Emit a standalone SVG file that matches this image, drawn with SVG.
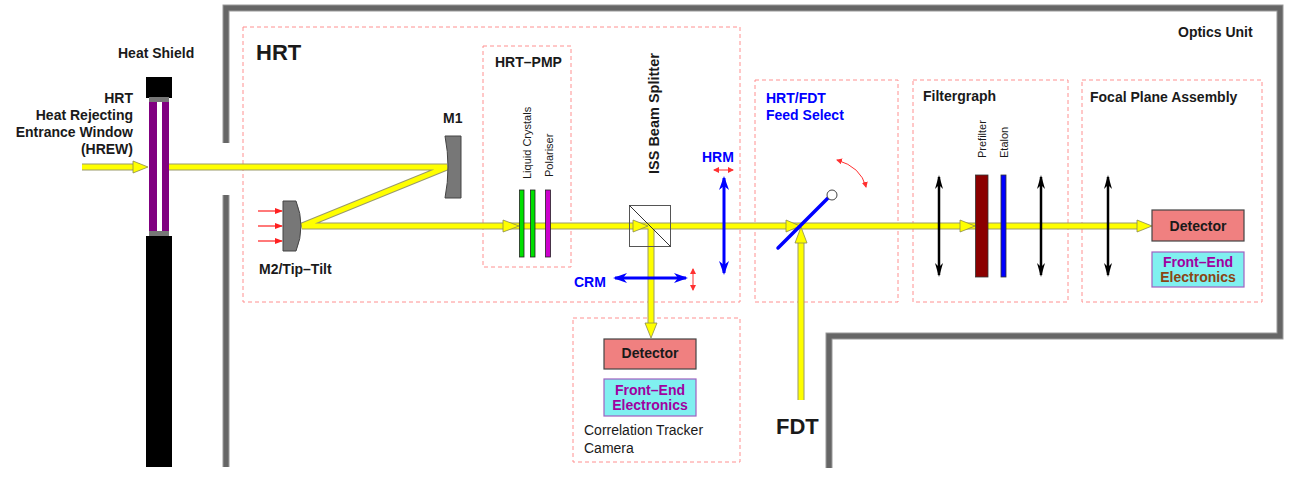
<svg xmlns="http://www.w3.org/2000/svg" width="1298" height="484" viewBox="0 0 1298 484">
<style>
text{font-family:"Liberation Sans",Arial,sans-serif;font-weight:bold;font-size:14px;fill:#1a1a1a}
.blue{fill:#0000ff}
.pur{fill:#a000a0}
.brn{fill:#8b4513}
.dash{fill:none;stroke:#ff9090;stroke-width:1;stroke-dasharray:4 3}
.wallo{fill:none;stroke:#9a9a9a;stroke-width:7}
.wall{fill:none;stroke:#666;stroke-width:5}
.bo{fill:none;stroke:#9a9a6a;stroke-width:7}
.b{fill:none;stroke:#ffff00;stroke-width:5}
.ah{fill:#ffff00;stroke:#8a8a50;stroke-width:0.8}
.lens{stroke:#000;stroke-width:2.5;marker-start:url(#bk);marker-end:url(#bk)}
.bl{stroke:#0000ff;stroke-width:3;marker-start:url(#bu);marker-end:url(#bu)}
.rd{stroke:#ff3030;stroke-width:1;fill:none;marker-start:url(#rd);marker-end:url(#rd)}
.det{fill:#f08080;stroke:#444;stroke-width:1.2}
.fee{fill:#80f0f0;stroke:#a060c0;stroke-width:1.2}
.small{font-weight:normal;font-size:11px}
</style>
<defs>
<marker id="bk" viewBox="0 0 14 8" refX="12" refY="4" markerWidth="14" markerHeight="8" markerUnits="userSpaceOnUse" orient="auto-start-reverse"><path d="M0,0 L14,4 L0,8 L4,4 Z" fill="#000"/></marker>
<marker id="bu" viewBox="0 0 14 10" refX="12" refY="5" markerWidth="14" markerHeight="10" markerUnits="userSpaceOnUse" orient="auto-start-reverse"><path d="M0,0 L14,5 L0,10 L4,5 Z" fill="#0000ff"/></marker>
<marker id="rd" viewBox="0 0 6 6" refX="5" refY="3" markerWidth="6" markerHeight="6" markerUnits="userSpaceOnUse" orient="auto-start-reverse"><path d="M0,0 L6,3 L0,6 Z" fill="#ff3030"/></marker>
<marker id="rda" viewBox="0 0 8 6" refX="7" refY="3" markerWidth="8" markerHeight="6" markerUnits="userSpaceOnUse" orient="auto"><path d="M0,0 L8,3 L0,6 Z" fill="#ff2020"/></marker>
</defs>

<g id="optics-unit">
<path class="wallo" d="M226,143 V8 H1280 V336 H829 V468"/>
<path class="wallo" d="M226,195 V467"/>
<path class="wall" d="M226,143 V8 H1280 V336 H829 V468"/>
<path class="wall" d="M226,195 V467"/>
<text x="1178" y="37">Optics Unit</text>
</g>

<g id="boxes">
<rect class="dash" x="243" y="27" width="497" height="275"/>
<rect class="dash" x="483" y="46" width="88" height="221"/>
<rect class="dash" x="755" y="80" width="143" height="222"/>
<rect class="dash" x="913" y="80" width="155" height="222"/>
<rect class="dash" x="1082" y="80" width="180" height="222"/>
<rect class="dash" x="573" y="318" width="167" height="144"/>
<text x="256" y="60" style="font-size:22px">HRT</text>
<text x="495" y="67">HRT–PMP</text>
<text x="766" y="103" class="blue">HRT/FDT</text>
<text x="766" y="120" class="blue">Feed Select</text>
<text x="923" y="101">Filtergraph</text>
<text x="1090" y="102">Focal Plane Assembly</text>
</g>

<g id="connectors">
<path class="bo" d="M82,167 H140"/>
<path class="bo" d="M169,167 H447 L302,226 H1140"/>
<path class="bo" d="M651,226 V326"/>
<path class="bo" d="M801,400 V238"/>
<path class="b" d="M82,167 H140"/>
<path class="b" d="M169,167 H447 L302,226 H1140"/>
<path class="b" d="M651,226 V326"/>
<path class="b" d="M801,400 V238"/>
<polygon class="ah" points="133,161 148,167 133,173"/>
<polygon class="ah" points="503,220 519,226 503,232"/>
<polygon class="ah" points="633,220 648,226 633,232"/>
<polygon class="ah" points="786,220 800,226 786,232"/>
<polygon class="ah" points="960,220 975,226 960,232"/>
<polygon class="ah" points="1137,220 1152,226 1137,232"/>
<polygon class="ah" points="645,323 651,338 657,323"/>
<polygon class="ah" points="795,243 801,227 807,243"/>
<line x1="258" y1="211" x2="282" y2="211" stroke="#ff2020" stroke-width="1.2" marker-end="url(#rda)"/>
<line x1="258" y1="226" x2="282" y2="226" stroke="#ff2020" stroke-width="1.2" marker-end="url(#rda)"/>
<line x1="258" y1="241" x2="282" y2="241" stroke="#ff2020" stroke-width="1.2" marker-end="url(#rda)"/>
</g>

<g id="heat-shield">
<rect x="146" y="77" width="26" height="21" fill="#000"/>
<rect x="149" y="97" width="20" height="5" fill="#777"/>
<rect x="149" y="102" width="8" height="129" fill="#800080"/>
<rect x="157" y="102" width="5" height="129" fill="#fff"/>
<rect x="162" y="102" width="7" height="129" fill="#800080"/>
<rect x="149" y="231" width="20" height="5" fill="#777"/>
<rect x="146" y="236" width="26" height="231" fill="#000"/>
<text x="118" y="58">Heat Shield</text>
<text x="133" y="103" text-anchor="end">HRT</text>
<text x="133" y="120" text-anchor="end">Heat Rejecting</text>
<text x="133" y="137" text-anchor="end">Entrance Window</text>
<text x="133" y="154" text-anchor="end">(HREW)</text>
</g>

<g id="m1">
<path d="M445,136 H461 V198 H445 Q451,167 445,136 Z" fill="#777" stroke="#444" stroke-width="1"/>
<text x="443" y="123">M1</text>
</g>

<g id="m2">
<path d="M283,201 H296 Q306,226 296,251 H283 Z" fill="#777" stroke="#444" stroke-width="1"/>
<text x="259" y="274">M2/Tip–Tilt</text>
</g>

<g id="hrt-pmp">
<rect x="519.5" y="190" width="4.5" height="67" fill="#00e000" stroke="#222" stroke-width="0.8"/>
<rect x="530.5" y="190" width="4.5" height="67" fill="#00e000" stroke="#222" stroke-width="0.8"/>
<rect x="545.5" y="190" width="5" height="67" fill="#cc00cc" stroke="#222" stroke-width="0.8"/>
<text class="small" transform="translate(531,179) rotate(-90)">Liquid Crystals</text>
<text class="small" transform="translate(553,177) rotate(-90)">Polariser</text>
</g>

<g id="iss-beam-splitter">
<rect x="629.5" y="205.5" width="41" height="41" fill="none" stroke="#555" stroke-width="1"/>
<line x1="629.5" y1="205.5" x2="670.5" y2="246.5" stroke="#333" stroke-width="1"/>
<text transform="translate(659,174) rotate(-90)" style="font-size:14.5px">ISS Beam Splitter</text>
</g>

<g id="hrm">
<line class="bl" x1="724" y1="178" x2="724" y2="273"/>
<line class="rd" x1="714" y1="170" x2="733" y2="170"/>
<text x="702" y="162" class="blue">HRM</text>
</g>

<g id="crm">
<line class="bl" x1="615" y1="278" x2="686" y2="278"/>
<line class="rd" x1="693" y1="269" x2="693" y2="290"/>
<text x="574" y="287" class="blue">CRM</text>
</g>

<g id="feed-select">
<line x1="778" y1="248" x2="828" y2="198" stroke="#0000ff" stroke-width="3.5" stroke-linecap="round"/>
<circle cx="832" cy="195" r="5" fill="#fff" stroke="#444" stroke-width="1"/>
<path class="rd" d="M837,160 Q861,167 866,187"/>
</g>

<g id="filtergraph">
<line class="lens" x1="939" y1="177" x2="939" y2="275"/>
<line class="lens" x1="1041" y1="177" x2="1041" y2="275"/>
<rect x="975.5" y="175" width="12.5" height="102" fill="#8b0000" stroke="#333" stroke-width="0.8"/>
<rect x="1001" y="175" width="5" height="102" fill="#0000ff" stroke="#333" stroke-width="0.8"/>
<text class="small" transform="translate(986,158) rotate(-90)">Prefilter</text>
<text class="small" transform="translate(1008,158) rotate(-90)">Etalon</text>
</g>

<g id="focal-plane-assembly">
<line class="lens" x1="1108" y1="177" x2="1108" y2="275"/>
<rect class="det" x="1152" y="210" width="92" height="31"/>
<text x="1198" y="231" text-anchor="middle">Detector</text>
<rect class="fee" x="1152" y="252" width="92" height="35"/>
<text x="1198" y="267" text-anchor="middle" class="pur">Front–End</text>
<text x="1198" y="282" text-anchor="middle" class="brn">Electronics</text>
</g>

<g id="correlation-tracker">
<rect class="det" x="604" y="339" width="92" height="30"/>
<text x="650" y="358" text-anchor="middle">Detector</text>
<rect class="fee" x="604" y="379" width="92" height="37"/>
<text x="650" y="395" text-anchor="middle" class="pur">Front–End</text>
<text x="650" y="410" text-anchor="middle" class="pur">Electronics</text>
<text x="584" y="435" style="font-weight:normal">Correlation Tracker</text>
<text x="584" y="453" style="font-weight:normal">Camera</text>
</g>

<g id="fdt">
<text x="776" y="434" style="font-size:22px">FDT</text>
</g>
</svg>
